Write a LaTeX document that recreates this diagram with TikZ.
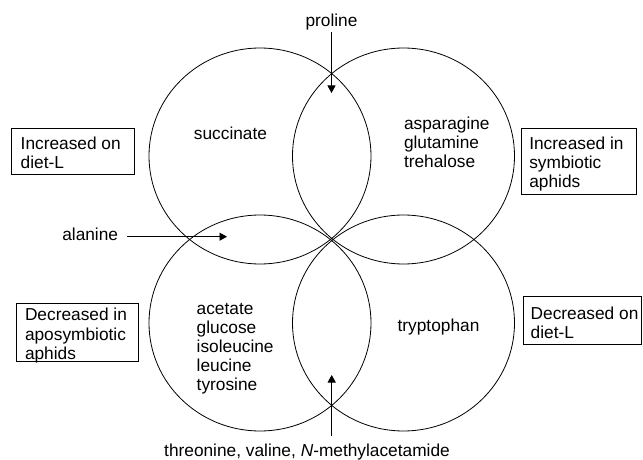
\documentclass[tikz,border=0pt]{standalone}
\usepackage{fontspec}
\setmainfont{Liberation Sans}
\usetikzlibrary{arrows.meta,calc}
\begin{document}
\begin{tikzpicture}[x=1pt,y=-1pt,
  every node/.style={font=\fontsize{17.3}{19.2}\selectfont, inner sep=0pt, outer sep=0pt},
  txt/.style={anchor=base west, align=left},
  lab/.style={anchor=base},
  box/.style={draw, line width=0.9pt, anchor=north west},
  ring/.style={draw, line width=0.8pt},
  arr/.style={line width=0.9pt, -{Triangle[length=7.5pt,width=8pt]}}]
\useasboundingbox (0,0) rectangle (643,460);
% circles
\draw[ring] (260,156) ellipse [x radius=111, y radius=108];
\draw[ring] (403.5,156) ellipse [x radius=111, y radius=108];
\draw[ring] (260,323) ellipse [x radius=111, y radius=108];
\draw[ring] (403.5,323) ellipse [x radius=111, y radius=108];
% boxes
\node[box, minimum width=122.6pt, minimum height=46pt] (b1) at (11.7,128.3) {};
\node[box, minimum width=114.3pt, minimum height=66pt] (b2) at (521.7,128.3) {};
\node[box, minimum width=121.3pt, minimum height=58.4pt] (b3) at (16.7,303.3) {};
\node[box, minimum width=118.2pt, minimum height=47.6pt] (b4) at (523.3,296.7) {};
% multi-line texts: anchored at the baseline of their last line
\node[txt] (t1) at (20.7,168.5) {Increased on\\diet-L};
\node[txt] (t2) at (529.3,187.5) {Increased in\\symbiotic\\aphids};
\node[txt] (t3) at (25,359.2) {Decreased in\\aposymbiotic\\aphids};
\node[txt] (t4) at (530.7,338.2) {Decreased on\\diet-L};
% contents
\node[lab] (proline) at (331.5,26.5) {proline};
\node[lab] (succ) at (230.5,139.3) {succinate};
\node[txt] (asp) at (404,167.7) {asparagine\\glutamine\\trehalose};
\node[txt] (alanine) at (62.3,240.7) {alanine};
\node[txt] (acet) at (196.7,390.8) {acetate\\glucose\\isoleucine\\leucine\\tyrosine};
\node[lab] (tryp) at (438.5,331.7) {tryptophan};
\node[lab] (thr) at (307,456) {threonine, valine, \textit{N}-methylacetamide};
% arrow tips
\coordinate (pt) at (331.5,93);
\coordinate (alt) at (227,236.7);
\coordinate (bt) at (331.7,375);
\draw[arr] ($(proline.south -| pt)+(0,2)$) -- (pt);
\draw[arr] ($(alanine.east |- alt)+(9.4,0)$) -- (alt);
\draw[arr] ($(thr.north -| bt)+(0,-7.5)$) -- (bt);
\end{tikzpicture}
\end{document}
